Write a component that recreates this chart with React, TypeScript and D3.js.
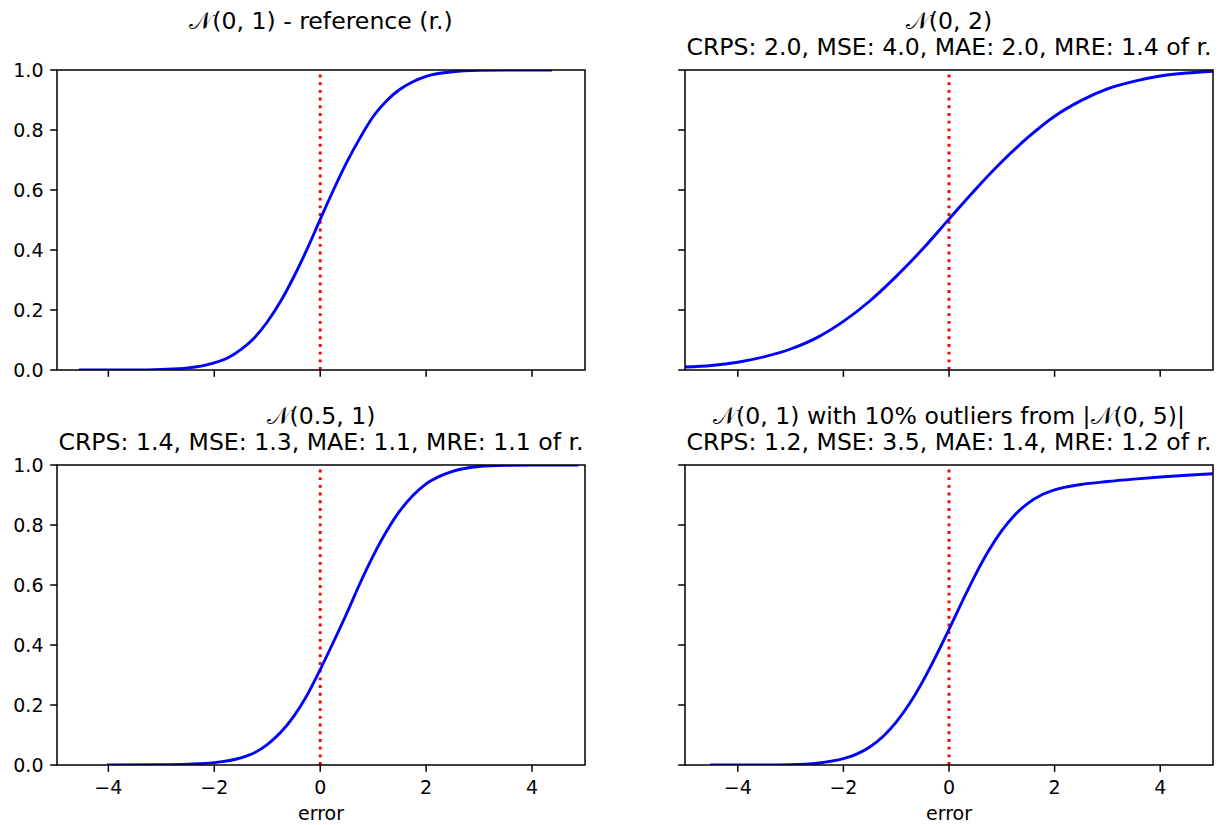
import React from 'react';
import * as d3 from 'd3';

// CDF curves (x = error, y = cumulative share)
const refX = [-4.53, -3.5, -3.0, -2.5, -2.0, -1.75, -1.5, -1.25, -1.0, -0.75, -0.5, -0.25, 0.0, 0.25, 0.5, 0.75, 1.0, 1.25, 1.5, 1.75, 2.0, 2.5, 3.0, 3.5, 4.35];
const refY = [0.0, 0.0, 0.002, 0.007, 0.024, 0.04, 0.068, 0.106, 0.16, 0.228, 0.31, 0.402, 0.502, 0.6, 0.692, 0.773, 0.845, 0.897, 0.935, 0.961, 0.979, 0.994, 0.999, 1.0, 1.0];

const wideX = [-5.0, -4.5, -4.0, -3.5, -3.0, -2.5, -2.0, -1.5, -1.0, -0.5, 0.0, 0.5, 1.0, 1.5, 2.0, 2.5, 3.0, 3.5, 4.0, 4.5, 5.0];
const wideY = [0.01, 0.015, 0.026, 0.044, 0.07, 0.108, 0.162, 0.23, 0.312, 0.403, 0.503, 0.602, 0.694, 0.776, 0.846, 0.898, 0.937, 0.962, 0.98, 0.99, 0.996];

const shiftX = [-4.0, -3.0, -2.5, -2.0, -1.5, -1.25, -1.0, -0.75, -0.5, -0.25, 0.0, 0.25, 0.5, 0.75, 1.0, 1.25, 1.5, 1.75, 2.0, 2.25, 2.5, 3.0, 3.5, 4.0, 4.85];
const shiftY = [0.0, 0.001, 0.003, 0.008, 0.024, 0.04, 0.068, 0.108, 0.162, 0.232, 0.318, 0.41, 0.505, 0.605, 0.697, 0.778, 0.846, 0.898, 0.937, 0.962, 0.979, 0.995, 0.999, 1.0, 1.0];

const outX = [-4.5, -3.5, -3.0, -2.5, -2.0, -1.75, -1.5, -1.25, -1.0, -0.75, -0.5, -0.25, 0.0, 0.25, 0.5, 0.75, 1.0, 1.25, 1.5, 1.75, 2.0, 2.5, 3.0, 3.5, 4.0, 4.5, 5.0, 6.0];
const outY = [0.0, 0.0, 0.001, 0.006, 0.021, 0.036, 0.06, 0.095, 0.143, 0.204, 0.278, 0.362, 0.452, 0.545, 0.634, 0.714, 0.781, 0.834, 0.873, 0.9, 0.917, 0.935, 0.945, 0.953, 0.96, 0.966, 0.971, 0.978];

const xTicks = [-4, -2, 0, 2, 4];
const yTicks = [0, 0.2, 0.4, 0.6, 0.8, 1.0];

const titleTL = ['𝒩(0, 1) - reference (r.)'];
const titleTR = ['𝒩(0, 2)', 'CRPS: 2.0, MSE: 4.0, MAE: 2.0, MRE: 1.4 of r.'];
const titleBL = ['𝒩(0.5, 1)', 'CRPS: 1.4, MSE: 1.3, MAE: 1.1, MRE: 1.1 of r.'];
const titleBR = ['𝒩(0, 1) with 10% outliers from |𝒩(0, 5)|', 'CRPS: 1.2, MSE: 3.5, MAE: 1.4, MRE: 1.2 of r.'];

const FONT = 'DejaVu Sans, sans-serif';
const W = 1222;
const H = 825;
const AW = 528;
const AH = 300;
const TICK_FS = 19;
const TITLE_FS = 23.6;

const panels = [
  { id: 'tl', left: 57, top: 70, dom: [-4.97, 5.0], xs: refX, ys: refY, title: titleTL, xl: false, yl: true },
  { id: 'tr', left: 685, top: 70, dom: [-5, 5], xs: wideX, ys: wideY, title: titleTR, xl: false, yl: false },
  { id: 'bl', left: 57, top: 465, dom: [-4.97, 5.0], xs: shiftX, ys: shiftY, title: titleBL, xl: true, yl: true },
  { id: 'br', left: 685, top: 465, dom: [-5, 5], xs: outX, ys: outY, title: titleBR, xl: true, yl: false },
];

const fmtX = d3.format('d');
const fmtY = d3.format('.1f');

const Panel = ({ p }: { p: any }) => {
  const x = d3.scaleLinear().domain(p.dom).range([0, AW]);
  const y = d3.scaleLinear().domain([0, 1]).range([AH, 0]);
  const pts: [number, number][] = p.xs.map((v: number, i: number) => [v, p.ys[i]]);
  const line = d3.line<[number, number]>()
    .x(d => x(d[0]))
    .y(d => y(d[1]))
    .curve(d3.curveMonotoneX);

  // title lines sit above the axes, last line closest
  const n = p.title.length;
  const titleBase = (i: number) => (p.id === 'tl' ? -41 : -15 - (n - 1 - i) * 26);

  return (
    <g transform={`translate(${p.left},${p.top})`}>
      <defs>
        <clipPath id={`clip-${p.id}`}>
          <rect x={0} y={0} width={AW} height={AH} />
        </clipPath>
      </defs>
      <g clipPath={`url(#clip-${p.id})`}>
        <line x1={x(0)} x2={x(0)} y1={AH} y2={0} stroke="red" strokeWidth={2.9} strokeDasharray="2.9 4.8" />
        <path d={line(pts) || ''} fill="none" stroke="#0000ff" strokeWidth={2.9} strokeLinejoin="round" strokeLinecap="square" />
      </g>
      <rect x={0} y={0} width={AW} height={AH} fill="none" stroke="black" strokeWidth={1.5} />
      {xTicks.map(t => (
        <g key={`x${t}`} transform={`translate(${x(t)},${AH})`}>
          <line y1={0} y2={6.8} stroke="black" strokeWidth={1.5} />
          {p.xl && (
            <text y={29} textAnchor="middle" fontSize={TICK_FS} fontFamily={FONT} fill="#000">{fmtX(t)}</text>
          )}
        </g>
      ))}
      {yTicks.map(t => (
        <g key={`y${t}`} transform={`translate(0,${y(t)})`}>
          <line x1={0} x2={-6.8} stroke="black" strokeWidth={1.5} />
          {p.yl && (
            <text x={-13.5} dy="0.36em" textAnchor="end" fontSize={TICK_FS} fontFamily={FONT} fill="#000">{fmtY(t)}</text>
          )}
        </g>
      ))}
      {p.xl && (
        <text x={AW / 2} y={AH + 55} textAnchor="middle" fontSize={TICK_FS} fontFamily={FONT} fill="#000">error</text>
      )}
      {p.title.map((s: string, i: number) => (
        <text key={i} x={AW / 2} y={titleBase(i)} textAnchor="middle" fontSize={TITLE_FS} fontFamily={FONT} fill="#000">{s}</text>
      ))}
    </g>
  );
};

export default function App() {
  return (
    <svg width={W} height={H} style={{ position: 'absolute', left: 0, top: 0, background: '#fff' }}>
      <rect width={W} height={H} fill="#fff" />
      {panels.map(p => <Panel key={p.id} p={p} />)}
    </svg>
  );
}
